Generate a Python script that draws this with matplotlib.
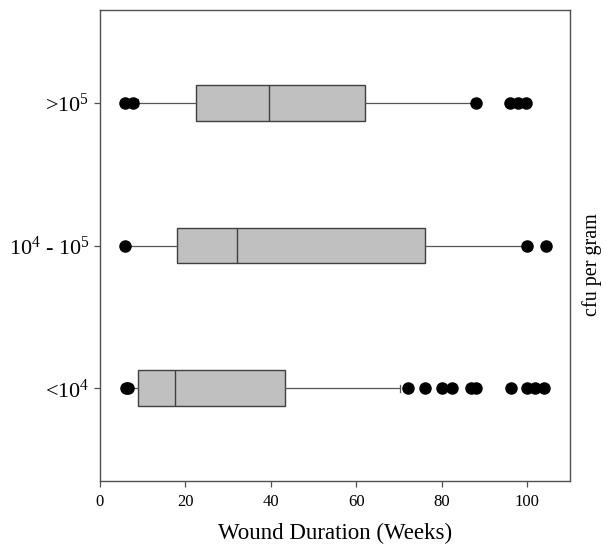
import matplotlib
matplotlib.use("Agg")
import matplotlib.pyplot as plt

plt.rcParams['font.family'] = ['Liberation Serif', 'DejaVu Serif']
plt.rcParams['mathtext.fontset'] = 'custom'
plt.rcParams['mathtext.rm'] = 'Liberation Serif'
plt.rcParams['mathtext.it'] = 'Liberation Serif:italic'

# groups, bottom to top
groups = ['<10$^{4}$', '10$^{4}$ - 10$^{5}$', '>10$^{5}$']
q1 = [8.8, 18.0, 22.4]
medians = [17.5, 32.0, 39.6]
q3 = [43.3, 76.1, 62.0]
whisk_lo = [7.5, 6.5, 9.0]
whisk_hi = [70.3, 99.0, 87.0]
outliers = [
    [6.0, 6.6, 72.0, 76.1, 80.1, 82.4, 86.9, 88.1, 96.2, 100.0, 101.9, 103.9],
    [5.9, 99.9, 104.3],
    [5.9, 7.7, 88.1, 96.0, 97.8, 99.8],
]

stats = []
for i in range(len(groups)):
    stats.append({'med': medians[i], 'q1': q1[i], 'q3': q3[i],
                  'whislo': whisk_lo[i], 'whishi': whisk_hi[i],
                  'fliers': outliers[i], 'label': groups[i]})

edge = '#404040'
fig = plt.figure(figsize=(6.06, 5.44), dpi=100)
ax = fig.add_axes([100 / 606, 63 / 544, 470 / 606, 471 / 544])

ax.bxp(stats, positions=[1, 2, 3], vert=False, widths=0.25,
       patch_artist=True, capwidths=0.05,
       boxprops=dict(facecolor='#c0c0c0', edgecolor=edge, linewidth=1.0),
       medianprops=dict(color=edge, linewidth=1.0),
       whiskerprops=dict(color='#555555', linewidth=0.9),
       capprops=dict(color='#555555', linewidth=0.9),
       flierprops=dict(marker='o', markerfacecolor='black',
                       markeredgecolor='black', markersize=8))

ax.set_xlim(0, 110)
ax.set_ylim(0.35, 3.65)
ax.set_xticks([0, 20, 40, 60, 80, 100])
ax.set_yticks([1, 2, 3])
ax.set_yticklabels(groups)

for s in ax.spines.values():
    s.set_color('#505050')
    s.set_linewidth(1.0)
ax.tick_params(axis='both', direction='out', colors='#505050',
               labelcolor='black', length=4.5, width=0.9)
ax.tick_params(axis='x', labelsize=12, pad=5)
ax.tick_params(axis='y', labelsize=16, pad=3)

ax.set_xlabel('Wound Duration (Weeks)', fontsize=16.5, labelpad=9)
ax.text(1.047, 0.46, 'cfu per gram', transform=ax.transAxes,
        rotation=90, ha='center', va='center', fontsize=14.5)

fig.savefig('out.png', dpi=100)
